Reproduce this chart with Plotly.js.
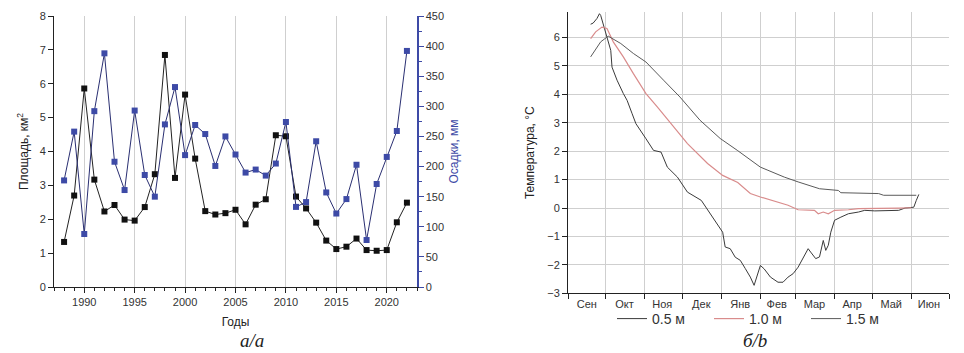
<!DOCTYPE html>
<html>
<head>
<meta charset="utf-8">
<script src="https://cdn.plot.ly/plotly-3.0.1.min.js"></script>
<style>html,body{margin:0;padding:0;background:#fff;}#chart{width:964px;height:353px;}</style>
</head>
<body>
<div id="chart"></div>
<script>
// ---- Panel a: lake area and precipitation ----
const years = [1988,1989,1990,1991,1992,1993,1994,1995,1996,1997,1998,1999,2000,2001,2002,2003,2004,2005,2006,2007,2008,2009,2010,2011,2012,2013,2014,2015,2016,2017,2018,2019,2020,2021,2022];
const area = [1.33,2.70,5.86,3.17,2.23,2.42,1.99,1.96,2.36,3.33,6.85,3.22,5.68,3.79,2.24,2.14,2.18,2.28,1.85,2.43,2.59,4.48,4.45,2.67,2.32,1.90,1.37,1.12,1.19,1.43,1.09,1.07,1.09,1.91,2.49];
const precip = [177,258,88,292,388,208,161,293,186,150,270,332,219,269,254,201,250,220,190,195,185,205,274,133,141,242,157,122,146,203,78,171,216,259,392];

// ---- Panel b: temperature at depths ----
const monthLabels = ['Сен','Окт','Ноя','Дек','Янв','Фев','Мар','Апр','Май','Июн'];
const monthMid = ['2020-09-16','2020-10-16','2020-11-15','2020-12-16','2021-01-16','2021-02-14','2021-03-16','2021-04-15','2021-05-16','2021-06-15'];
const depthNames = ['0.5 м','1.0 м','1.5 м'];

const d05Dates = ['2020-09-19','2020-09-21','2020-09-24','2020-09-26','2020-09-27','2020-09-29','2020-10-02','2020-10-05','2020-10-06','2020-10-10','2020-10-15','2020-10-18','2020-10-22','2020-10-25','2020-11-02','2020-11-08','2020-11-14','2020-11-19','2020-11-27','2020-12-05','2020-12-16','2020-12-26','2021-01-02','2021-01-04','2021-01-08','2021-01-12','2021-01-16','2021-01-20','2021-01-24','2021-01-27','2021-01-30','2021-02-01','2021-02-04','2021-02-09','2021-02-15','2021-02-19','2021-02-23','2021-02-27','2021-03-03','2021-03-07','2021-03-11','2021-03-13','2021-03-17','2021-03-20','2021-03-23','2021-03-25','2021-03-27','2021-03-29','2021-04-01','2021-04-06','2021-04-12','2021-04-20','2021-04-25','2021-05-03','2021-05-22','2021-05-27','2021-06-03','2021-06-05','2021-06-07'];
const d05Temp = [6.47,6.51,6.67,6.84,6.78,6.49,6.02,5.55,4.96,4.50,4.03,3.79,3.32,2.97,2.44,2.03,1.97,1.44,1.09,0.56,0.27,-0.37,-0.85,-1.37,-1.43,-1.73,-1.84,-2.13,-2.43,-2.72,-2.31,-2.02,-2.14,-2.43,-2.61,-2.61,-2.43,-2.31,-2.08,-1.78,-1.43,-1.55,-1.78,-1.72,-1.14,-1.49,-1.31,-0.85,-0.43,-0.32,-0.20,-0.14,-0.08,-0.10,-0.08,0.00,0.03,0.27,0.48];

const d10Dates = ['2020-09-19','2020-09-23','2020-09-28','2020-10-02','2020-10-07','2020-10-15','2020-10-23','2020-11-02','2020-11-11','2020-11-22','2020-12-05','2020-12-21','2021-01-02','2021-01-14','2021-01-24','2021-02-01','2021-02-12','2021-02-23','2021-03-03','2021-03-16','2021-03-19','2021-03-23','2021-03-27','2021-04-01','2021-04-12','2021-04-20','2021-05-22','2021-06-01'];
const d10Temp = [5.96,6.20,6.37,6.32,5.85,5.32,4.73,4.03,3.56,2.97,2.27,1.57,1.15,0.90,0.51,0.39,0.25,0.10,-0.06,-0.08,-0.20,-0.14,-0.20,-0.08,-0.06,-0.02,0.00,0.01];

const d15Dates = ['2020-09-19','2020-09-27','2020-10-03','2020-10-13','2020-10-23','2020-11-02','2020-11-16','2020-11-29','2020-12-15','2020-12-31','2021-01-14','2021-01-24','2021-02-01','2021-02-07','2021-02-20','2021-03-03','2021-03-20','2021-04-04','2021-04-06','2021-05-06','2021-05-10','2021-06-05'];
const d15Temp = [5.32,5.85,6.05,5.79,5.44,5.14,4.50,3.91,3.09,2.45,2.02,1.68,1.44,1.33,1.09,0.92,0.68,0.62,0.54,0.51,0.45,0.45];

const W = 964, H = 353;
const px = v => v / W;
const py = v => (H - v) / H;

const blue = '#3d4aa6';
const gridC = '#cfcfcf';
const tickFont = {family: 'Liberation Sans, Arial, sans-serif', size: 11, color: '#333'};

const traces = [
  {x: years, y: area, xaxis: 'x', yaxis: 'y', type: 'scatter', mode: 'lines+markers',
   line: {color: '#222', width: 1}, marker: {symbol: 'square', size: 6, color: '#111'}, showlegend: false},
  {x: years, y: precip, xaxis: 'x', yaxis: 'y2', type: 'scatter', mode: 'lines+markers',
   line: {color: '#2a2f72', width: 1}, marker: {symbol: 'square', size: 6, color: blue}, showlegend: false},
  {x: d05Dates, y: d05Temp, xaxis: 'x3', yaxis: 'y3', type: 'scatter', mode: 'lines', name: depthNames[0],
   line: {color: '#3a3a3a', width: 1}},
  {x: d10Dates, y: d10Temp, xaxis: 'x3', yaxis: 'y3', type: 'scatter', mode: 'lines', name: depthNames[1],
   line: {color: '#d98c8c', width: 1.2}},
  {x: d15Dates, y: d15Temp, xaxis: 'x3', yaxis: 'y3', type: 'scatter', mode: 'lines', name: depthNames[2],
   line: {color: '#5a5a5a', width: 1}}
];

const layout = {
  width: W, height: H,
  margin: {l: 0, r: 0, t: 0, b: 0, autoexpand: false},
  paper_bgcolor: '#fff', plot_bgcolor: '#fff',
  font: {family: 'Liberation Sans, Arial, sans-serif', color: '#222'},
  showlegend: true,
  legend: {orientation: 'h', x: px(612), y: py(319), xanchor: 'left', yanchor: 'middle',
           entrywidth: 52, entrywidthmode: 'pixels', font: {size: 14, color: '#333'}, bgcolor: 'rgba(0,0,0,0)'},
  xaxis: {domain: [px(54), px(417)], range: [1987, 2023], anchor: 'y', automargin: false,
          tickmode: 'linear', tick0: 1990, dtick: 5, ticks: 'outside', ticklen: 5, tickcolor: '#222',
          showline: true, linecolor: '#222', linewidth: 1, showgrid: true, gridcolor: gridC, zeroline: false,
          tickfont: tickFont,
          minor: {tickmode: 'linear', tick0: 1987, dtick: 1, ticks: 'outside', ticklen: 3, tickcolor: '#222', showgrid: false},
          title: {text: 'Годы', font: {size: 12, color: '#222'}, standoff: 10}},
  yaxis: {domain: [py(287), py(16)], range: [0, 8], anchor: 'x', automargin: false,
          tickmode: 'linear', tick0: 0, dtick: 1, ticks: 'outside', ticklen: 5, tickcolor: '#222',
          showline: true, linecolor: '#222', linewidth: 1, showgrid: false, zeroline: false,
          tickfont: tickFont,
          title: {text: 'Площадь, км<sup>2</sup>', font: {size: 12, color: '#222'}, standoff: 8}},
  yaxis4: {domain: [py(287), py(16)], range: [0, 8], overlaying: 'y', anchor: 'x', automargin: false,
           tickvals: [1,2,3,4,5,6,7], showticklabels: false, ticks: '', showgrid: true, gridcolor: gridC,
           showline: false, zeroline: false},
  yaxis2: {range: [0, 450], overlaying: 'y', side: 'right', anchor: 'x', automargin: false,
           tickmode: 'linear', tick0: 0, dtick: 50, ticks: 'outside', ticklen: 5, tickcolor: blue,
           showline: true, linecolor: blue, linewidth: 1.5, showgrid: false, zeroline: false,
           tickfont: tickFont,
           minor: {tickmode: 'linear', tick0: 0, dtick: 25, ticks: 'outside', ticklen: 3, tickcolor: blue},
           title: {text: 'Осадки, мм', font: {size: 12, color: blue}, standoff: 6}},
  xaxis3: {domain: [px(568), px(949)], range: ['2020-09-01', '2021-07-01'], type: 'date', anchor: 'y3', automargin: false,
           tickmode: 'array', tickvals: monthMid, ticktext: monthLabels, ticks: '', showgrid: false,
           showline: true, linecolor: '#222', linewidth: 1, zeroline: false, tickfont: tickFont,
           minor: {tick0: '2020-09-01', dtick: 'M1', ticks: 'outside', ticklen: 5, tickcolor: '#222',
                   showgrid: true, gridcolor: gridC}},
  yaxis3: {domain: [py(293.3), py(12)], range: [-3, 6.9], anchor: 'x3', automargin: false,
           tickmode: 'linear', tick0: -3, dtick: 1, ticks: 'outside', ticklen: 5, tickcolor: '#222',
           showline: true, linecolor: '#222', linewidth: 1, showgrid: true, gridcolor: gridC, zeroline: false,
           tickfont: tickFont,
           title: {text: 'Температура, °C', font: {size: 12, color: '#222'}, standoff: 10}},
  annotations: [
    {xref: 'paper', yref: 'paper', x: px(252), y: py(340), xanchor: 'center', yanchor: 'middle', text: 'а/a', showarrow: false,
     font: {family: 'Liberation Serif, Times New Roman, serif', size: 19, color: '#222', style: 'italic'}},
    {xref: 'paper', yref: 'paper', x: px(755), y: py(340), xanchor: 'center', yanchor: 'middle', text: 'б/b', showarrow: false,
     font: {family: 'Liberation Serif, Times New Roman, serif', size: 19, color: '#222', style: 'italic'}}
  ]
};

Plotly.newPlot('chart', traces, layout, {staticPlot: true, displayModeBar: false});
</script>
</body>
</html>
